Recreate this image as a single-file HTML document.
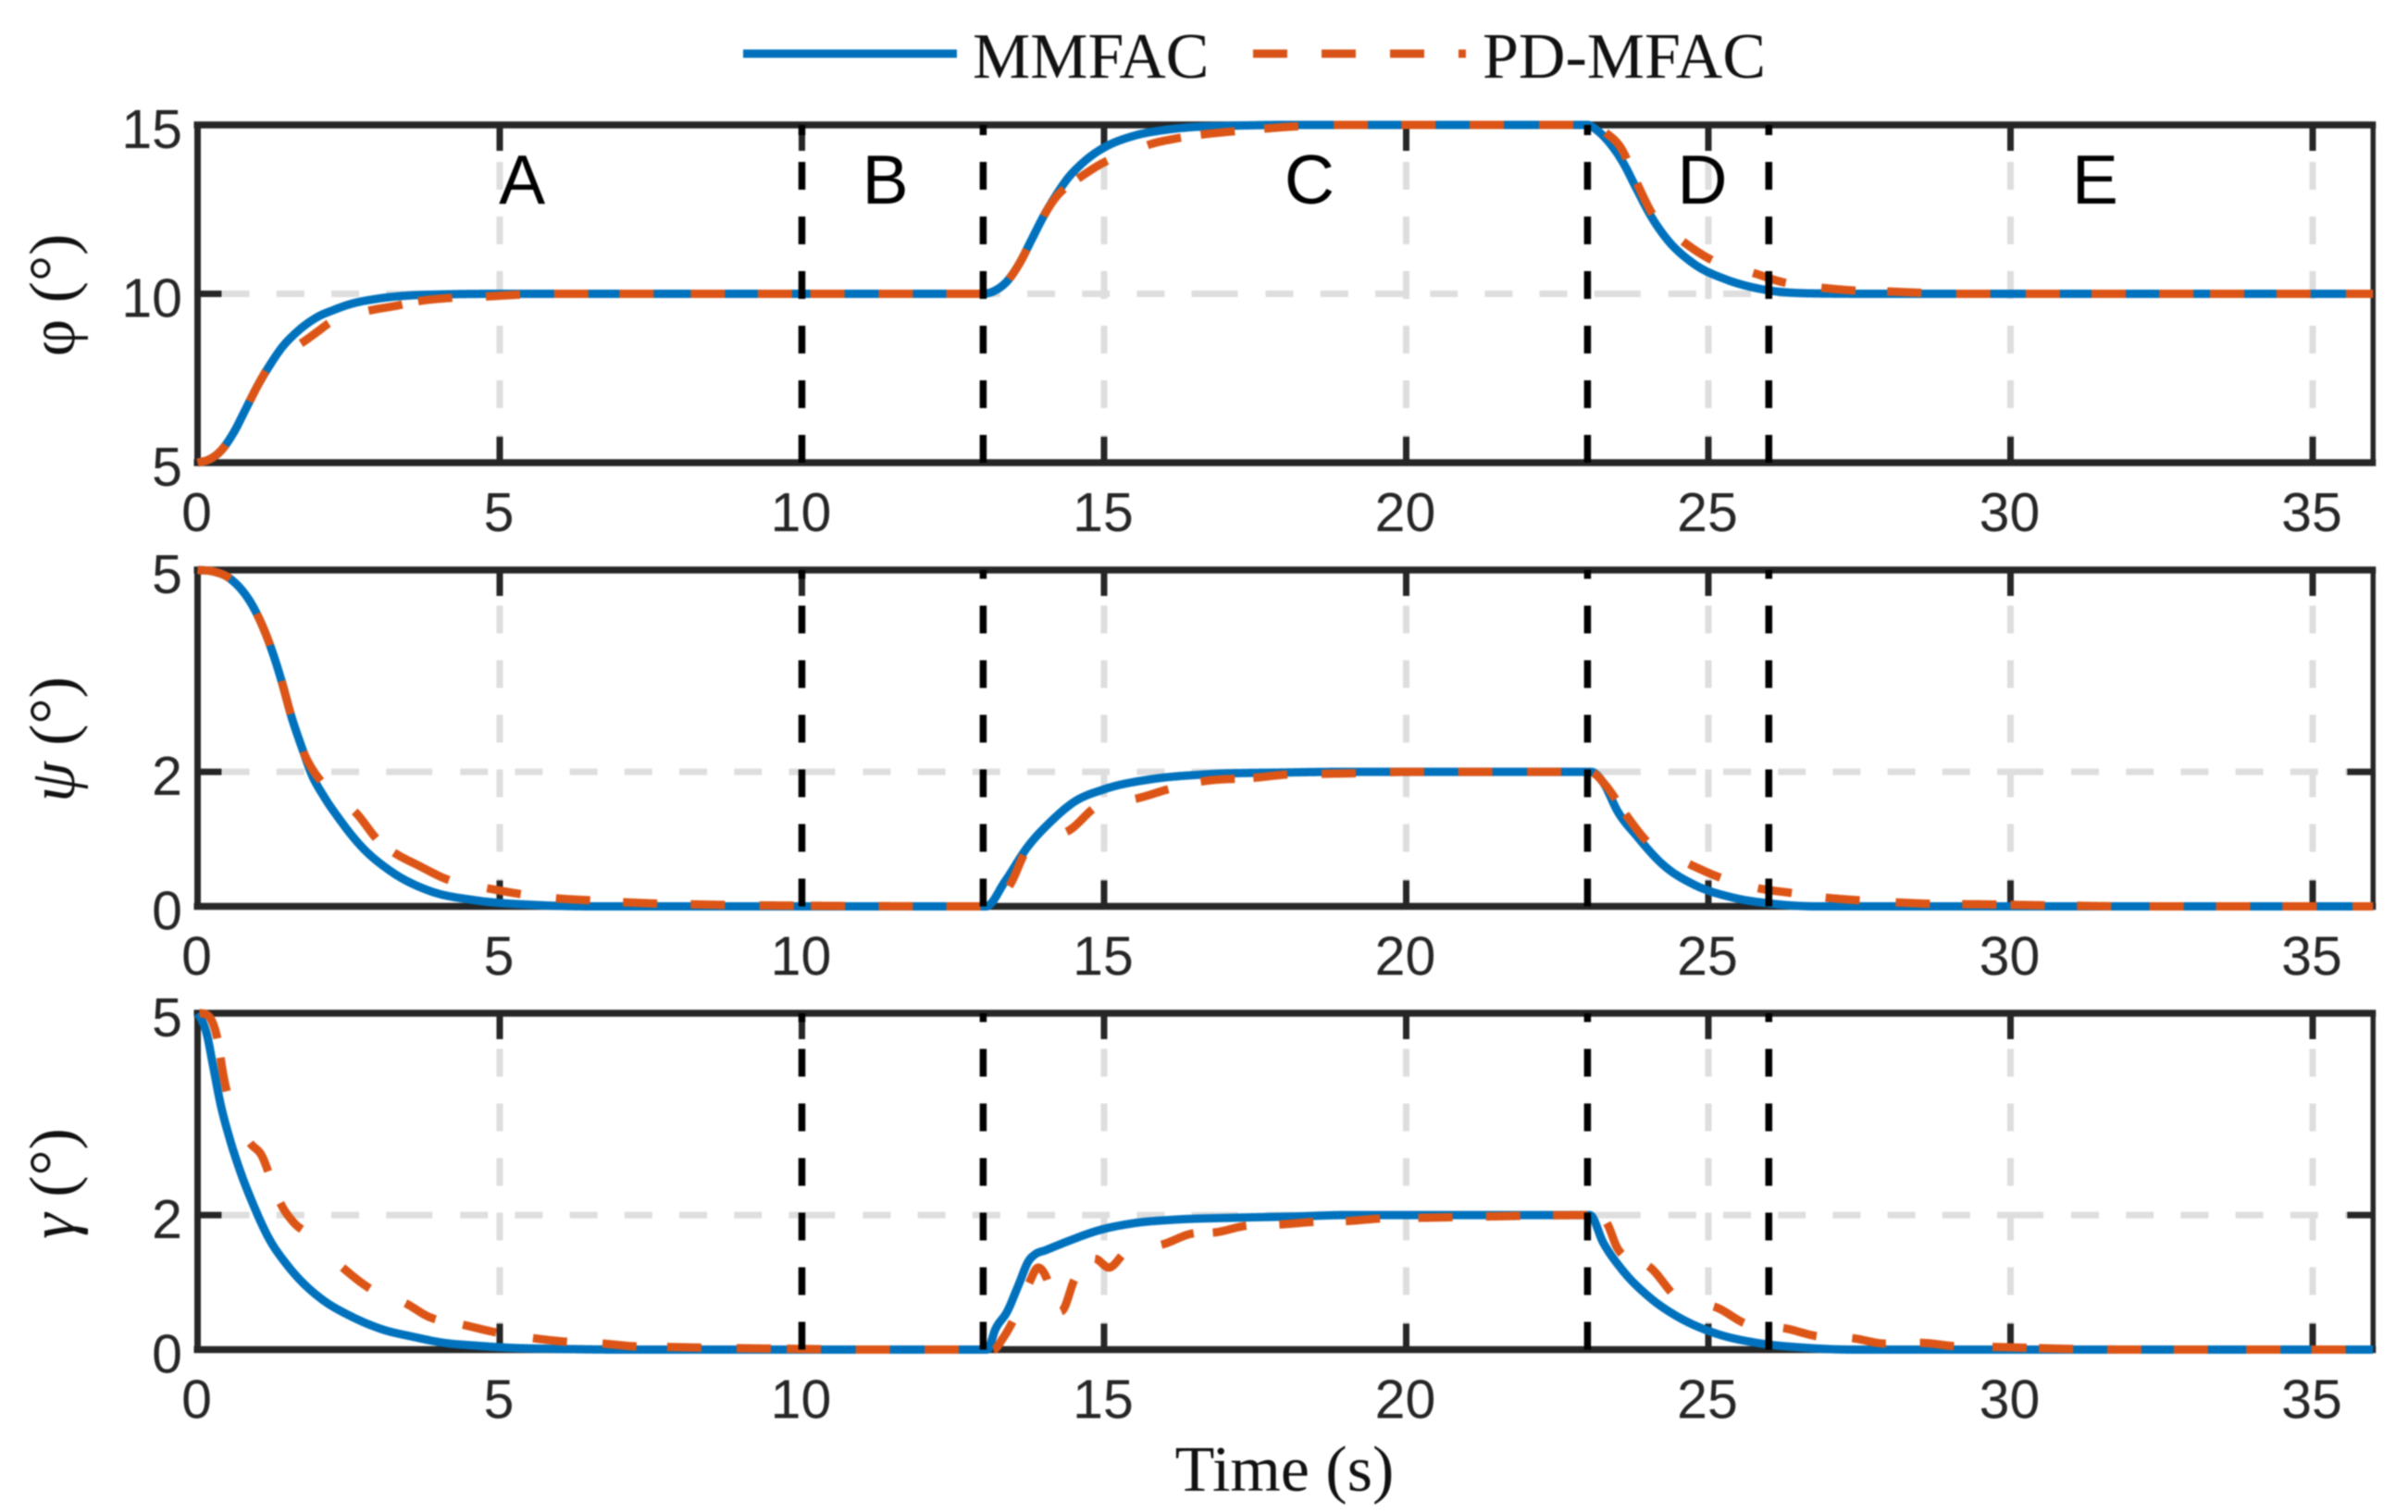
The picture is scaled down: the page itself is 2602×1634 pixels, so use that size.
<!DOCTYPE html>
<html lang="en">
<head>
<meta charset="utf-8">
<title>MMFAC vs PD-MFAC attitude tracking</title>
<style>
html,body{margin:0;padding:0;background:#fff;width:2602px;height:1634px;overflow:hidden}
svg{display:block;filter:blur(0.7px)}
.tick{font-family:"Liberation Sans",Arial,sans-serif;font-size:59px;fill:#262626}
.region{font-family:"Liberation Sans",Arial,sans-serif;font-size:75px;fill:#000;text-anchor:middle}
.serif{font-family:"Liberation Serif","Times New Roman",serif;fill:#111}
</style>
</head>
<body>
<svg id="chart" xmlns="http://www.w3.org/2000/svg" width="2602" height="1634" viewBox="0 0 2602 1634">
  <rect x="0" y="0" width="2602" height="1634" fill="#ffffff"/>
  <g id="plots"></g>
  <g>
    <line x1="803" y1="58" x2="1034" y2="58" stroke="#0072BD" stroke-width="9"/>
    <text class="serif" x="1051" y="84" font-size="70">MMFAC</text>
    <line x1="1354" y1="58" x2="1584" y2="58" stroke="#D95319" stroke-width="9" stroke-dasharray="37 37"/>
    <text class="serif" x="1602" y="84" font-size="70">PD-MFAC</text>
  </g>
  <text class="serif" font-size="70" text-anchor="middle" transform="translate(80 319) rotate(-90)">φ (°)</text>
  <text class="serif" font-size="70" text-anchor="middle" transform="translate(80 799) rotate(-90)"><tspan font-style="italic">ψ</tspan> (°)</text>
  <text class="serif" font-size="70" text-anchor="middle" transform="translate(80 1279) rotate(-90)"><tspan font-style="italic">γ</tspan> (°)</text>
  <text class="serif" font-size="70" text-anchor="middle" x="1388" y="1611">Time (s)</text>
</svg>
<script>
// ---- chart data (seconds, degrees) ----
const xTickValues = [0, 5, 10, 15, 20, 25, 30, 35];
const phaseBoundaries = [10, 13, 23, 26];
const regionNames = ['A', 'B', 'C', 'D', 'E'];
const regionTimes = [5.37, 11.38, 18.4, 24.9, 31.4];

const phiTicks = [5, 10, 15];
const psiTicks = [0, 2, 5];
const gammaTicks = [0, 2, 5];

const phiBlueT = [0,.2,.4,.6,.8,1,1.2,1.4,1.6,1.8,2,2.25,2.5,3,3.5,4,5,13,13.2,13.4,13.6,13.8,14,14.2,14.4,14.6,14.8,15,15.5,16,16.5,17,18,23,23.15,23.35,23.6,23.8,24.05,24.3,24.75,25.3,25.9,26.8,28,36];
const phiBlueV = [5,5.1,5.38,5.9,6.6,7.3,7.9,8.42,8.8,9.1,9.33,9.52,9.68,9.86,9.95,9.98,10,10,10.1,10.38,10.9,11.6,12.3,12.9,13.42,13.8,14.1,14.33,14.68,14.85,14.94,14.97,15,15,14.85,14.5,13.85,13.15,12.3,11.65,10.9,10.42,10.13,10.01,10,10];
const phiOrangeT = [0,.2,.4,.6,.8,1,1.2,1.4,1.7,2,2.2,2.5,2.83,3.3,3.65,4.2,4.77,5.4,6,13,13.2,13.4,13.6,13.8,14,14.2,14.4,14.57,15.08,15.4,15.72,16.2,16.64,17.08,17.65,18.2,19,23,23.15,23.3,23.56,23.82,24.08,24.58,25.09,25.74,26.24,26.87,27.39,27.96,28.5,29.1,36];
const phiOrangeV = [5,5.1,5.38,5.9,6.6,7.3,7.9,8.25,8.52,8.9,9.16,9.35,9.5,9.65,9.78,9.88,9.92,9.98,10,10,10.1,10.38,10.9,11.6,12.3,12.85,13.2,13.41,13.96,14.15,14.4,14.6,14.72,14.8,14.89,14.96,15,15,14.95,14.77,14.3,13.27,12.34,11.55,10.97,10.62,10.34,10.18,10.1,10.07,10.03,10,10];
const phiDashStarts = [0,.86,1.71,2.83,3.65,4.77,5.9,6.98,8.16,9.27,10.14,11.27,12.39,13.43,14,14.57,15.72,16.6,17.65,18.8,19.92,21.05,22.2,23.3,23.82,24.58,25.74,26.87,27.96,29.1,30.25,31.34,32.46,33.3,34.4,35.55];

const psiBlueT = [0,.25,.54,.98,1.2,1.39,1.55,1.75,1.87,2.1,2.32,2.7,3.2,3.84,4.6,5.6,6.6,13,13.05,13.36,13.74,14.13,14.5,15,15.78,16.64,18,19,23,23.06,23.26,23.5,23.82,24.26,24.77,25.41,26.05,26.8,36];
const psiBlueV = [5,4.98,4.87,4.35,3.88,3.35,2.83,2.3,2,1.62,1.33,.9,.52,.23,.09,.02,0,0,0,.37,.89,1.27,1.55,1.74,1.89,1.96,1.99,2,2,2,1.84,1.41,1.04,.61,.32,.13,.04,0,0];
const psiOrangeT = [0,.25,.54,.98,1.2,1.39,1.55,1.75,2.05,2.3,2.6,3.02,3.25,3.65,4.16,4.79,5.37,5.93,6.5,7.1,7.65,8.2,8.8,10,13,13.15,13.43,13.77,14.38,14.92,15.52,16.06,16.64,17.47,18.03,18.6,19.2,20,23,23.1,23.3,23.63,24.01,24.68,25.22,25.82,26.37,26.94,27.5,28.1,28.6,29.5,31,32,36];
const psiOrangeV = [5,4.98,4.87,4.35,3.88,3.35,2.83,2.3,1.85,1.62,1.41,.95,.8,.61,.39,.27,.18,.12,.09,.06,.04,.03,.02,.01,0,.02,.3,.91,1.11,1.51,1.6,1.74,1.86,1.91,1.96,1.97,1.98,2,2,1.98,1.8,1.37,.94,.63,.42,.27,.2,.13,.09,.06,.04,.03,.01,0,0];
const psiDashStarts = [0,.98,1.39,1.75,2.6,3.25,3.65,4.79,5.93,7.04,8.16,9.3,10.15,11.27,12.39,13.43,14.38,15.52,16.6,17.47,18.6,19.73,20.86,22,23.1,23.63,24.68,25.82,26.94,28.1,29.2,30,31.1,32.3,33.4,34.5,35.66];

const gammaBlueT = [0,.05,.15,.25,.38,.53,.71,.91,1.17,1.48,1.68,2.04,2.55,3.06,3.57,4.08,4.59,5.1,6,7,13,13.07,13.2,13.4,13.58,13.76,13.85,14.04,14.4,14.9,15.5,16.14,17.15,18.2,19,23,23.04,23.26,23.57,24.01,24.53,25.09,25.8,26.56,27.4,36];
const gammaBlueV = [5,4.93,4.7,4.25,3.65,3.14,2.64,2.18,1.67,1.26,1.05,.76,.49,.3,.19,.1,.06,.03,.01,0,0,0,.3,.57,.95,1.33,1.41,1.48,1.61,1.77,1.88,1.93,1.96,1.98,2,2,2,1.59,1.19,.79,.47,.25,.1,.03,0,0];
const gammaOrangeT = [0,.03,.15,.33,.43,.56,.87,1.07,1.2,1.37,1.58,1.86,2.4,2.96,3.44,3.82,4.39,4.97,5.55,6.06,6.7,7.2,7.75,8.3,9,10,11,13.17,13.32,13.5,13.76,13.91,14.06,14.2,14.29,14.52,14.85,15.08,15.36,15.95,16.5,16.8,17.35,17.9,18.5,19,19.6,20.3,21.4,23,23.1,23.32,23.5,24.01,24.53,25.09,25.67,26.24,26.8,27.38,27.93,28.5,29.1,29.7,31,32,36];
const gammaOrangeV = [5,5,4.98,4.61,4.06,3.58,3.07,2.87,2.57,2.18,1.9,1.7,1.22,.85,.69,.49,.37,.25,.17,.12,.09,.05,.04,.03,.02,.01,0,0,.16,.44,.99,1.22,1.04,.6,.57,1.06,1.35,1.22,1.45,1.56,1.73,1.74,1.84,1.86,1.9,1.91,1.95,1.96,1.98,2,1.98,1.88,1.5,1.24,.74,.64,.37,.32,.2,.17,.09,.1,.05,.04,.01,0,0];
const gammaDashStarts = [.03,.38,.87,1.37,2.4,3.44,4.39,5.55,6.7,7.77,8.92,9.75,10.89,12.03,13.17,13.76,14.29,14.85,15.95,16.8,17.9,19,20.2,21.32,22.43,23.32,24.01,25.09,26.24,27.38,28.5,29.7,30.47,31.6,32.7,33.9,34.98];

// ---- axis functions ----
const x0 = 213.5, pxPerSec = 65.3, xMax = 36;
const scaleX = t => x0 + pxPerSec * t;
const makeScaleY = (top, bottom, vMin, vMax) => v => bottom - (v - vMin) / (vMax - vMin) * (bottom - top);

const SVGNS = 'http://www.w3.org/2000/svg';
const root = document.getElementById('plots');
function mk(tag, attrs, parent) {
  const n = document.createElementNS(SVGNS, tag);
  for (const k in attrs) n.setAttribute(k, attrs[k]);
  (parent || root).appendChild(n);
  return n;
}

// Smooth interpolant through the sampled readings (Fritsch-Carlson limited tangents)
function makeSpline(ts, vs) {
  const n = ts.length, d = [], m = new Array(n).fill(0);
  for (let i = 0; i < n - 1; i++) d.push((vs[i + 1] - vs[i]) / (ts[i + 1] - ts[i]));
  m[0] = d[0]; m[n - 1] = d[n - 2];
  for (let i = 1; i < n - 1; i++) {
    if (d[i - 1] * d[i] <= 0) { m[i] = 0; continue; }
    const h0 = ts[i] - ts[i - 1], h1 = ts[i + 1] - ts[i];
    m[i] = (h1 * d[i - 1] + h0 * d[i]) / (h0 + h1);
  }
  for (let i = 0; i < n - 1; i++) {
    if (d[i] === 0) { m[i] = 0; m[i + 1] = 0; continue; }
    const a = m[i] / d[i], b = m[i + 1] / d[i], s = a * a + b * b;
    if (s > 9) { const k = 3 / Math.sqrt(s); m[i] = k * a * d[i]; m[i + 1] = k * b * d[i]; }
  }
  return t => {
    let i = 0;
    while (i < n - 2 && t > ts[i + 1]) i++;
    const h = ts[i + 1] - ts[i], u = Math.min(1, Math.max(0, (t - ts[i]) / h));
    const u2 = u * u, u3 = u2 * u;
    return (2 * u3 - 3 * u2 + 1) * vs[i] + (u3 - 2 * u2 + u) * h * m[i]
      + (-2 * u3 + 3 * u2) * vs[i + 1] + (u3 - u2) * h * m[i + 1];
  };
}
function subPath(f, sy, a, b) {
  let p = 'M' + scaleX(a).toFixed(2) + ' ' + sy(f(a)).toFixed(2);
  const steps = Math.max(1, Math.ceil((b - a) / 0.02));
  for (let i = 1; i <= steps; i++) {
    const t = a + (b - a) * i / steps;
    p += 'L' + scaleX(t).toFixed(2) + ' ' + sy(f(t)).toFixed(2);
  }
  return p;
}

const AXIS = '#262626', GRID = '#dedede';
const VDASH = '30 29';
const HDASH = '30 29.2 30 29.2 30 29.2 30 29.2 30 29.2 30 29.2 50 30';

function drawPanel(name, top, bottom, vMin, vMax, yTicks, gridValue, blueT, blueV, orangeT, orangeV, dashStarts, withRegions) {
  const sy = makeScaleY(top, bottom, vMin, vMax);
  const g = mk('g', {});
  
  

  // grid
  xTickValues.slice(1).forEach(t => {
    const l = mk('line', {x1: scaleX(t), x2: scaleX(t), y1: bottom, y2: top, stroke: GRID, 'stroke-width': 7, 'stroke-dasharray': VDASH}, g);
    
    
  });
  const hg = mk('line', {x1: scaleX(0) + 26.5, x2: scaleX(xMax), y1: sy(gridValue), y2: sy(gridValue), stroke: GRID, 'stroke-width': 7, 'stroke-dasharray': HDASH, 'stroke-dashoffset': 178}, g);
  
  

  // x ticks, both sides
  xTickValues.slice(1).forEach(t => {
    const a = mk('line', {x1: scaleX(t), x2: scaleX(t), y1: bottom, y2: bottom - 28, stroke: AXIS, 'stroke-width': 7}, g);
    
    
    const b = mk('line', {x1: scaleX(t), x2: scaleX(t), y1: top, y2: top + 28, stroke: AXIS, 'stroke-width': 7}, g);
    
    
  });
  // y ticks, both sides
  yTicks.forEach(v => {
    const a = mk('line', {x1: scaleX(0), x2: scaleX(0) + 26, y1: sy(v), y2: sy(v), stroke: AXIS, 'stroke-width': 7}, g);
    
    
    const b = mk('line', {x1: scaleX(xMax), x2: scaleX(xMax) - 28, y1: sy(v), y2: sy(v), stroke: AXIS, 'stroke-width': 7}, g);
    
    
  });

  // axes box
  const xl = scaleX(0), xr = scaleX(xMax);
  const boxTop = mk('line', {x1: xl - 4, x2: xr + 3, y1: top, y2: top, stroke: AXIS, 'stroke-width': 7.5}, g);
  
  
  const boxBottom = mk('line', {x1: xl - 4, x2: xr + 3, y1: bottom, y2: bottom, stroke: AXIS, 'stroke-width': 7.5}, g);
  
  
  const boxLeft = mk('line', {x1: xl, x2: xl, y1: top, y2: bottom, stroke: AXIS, 'stroke-width': 7}, g);
  
  
  const boxRight = mk('line', {x1: xr, x2: xr, y1: top, y2: bottom, stroke: AXIS, 'stroke-width': 5.5}, g);
  
  

  // tick labels
  xTickValues.forEach(t => {
    const tl = mk('text', {class: 'tick', x: scaleX(t) - 1, y: bottom + 74, 'text-anchor': 'middle'}, g);
    tl.textContent = String(t);
    
    
  });
  yTicks.forEach(v => {
    const tl = mk('text', {class: 'tick', x: 197, y: sy(v) + 25, 'text-anchor': 'end'}, g);
    tl.textContent = String(v);
    
    
  });

  // series
  const fBlue = makeSpline(blueT, blueV);
  const blue = mk('path', {d: subPath(fBlue, sy, blueT[0], blueT[blueT.length - 1]), fill: 'none', stroke: '#0072BD', 'stroke-width': 9, 'stroke-linejoin': 'round'}, g);
  
  

  // each subpath starts a fresh dash at one of the dash-start times
  const fOrange = makeSpline(orangeT, orangeV);
  let orangeD = '';
  dashStarts.forEach((t, i) => {
    const end = i + 1 < dashStarts.length ? dashStarts[i + 1] : orangeT[orangeT.length - 1];
    orangeD += subPath(fOrange, sy, t, end);
  });
  const orange = mk('path', {d: orangeD, fill: 'none', stroke: '#DC5516', 'stroke-width': 9, 'stroke-dasharray': '37 9999', 'stroke-linejoin': 'round'}, g);
  
  

  // phase boundaries
  phaseBoundaries.forEach(t => {
    const l = mk('line', {x1: scaleX(t), x2: scaleX(t), y1: bottom, y2: top, stroke: '#000', 'stroke-width': 7.5, 'stroke-dasharray': VDASH}, g);
    
    
  });

  if (withRegions) {
    regionNames.forEach((label, i) => {
      const r = mk('text', {class: 'region', x: scaleX(regionTimes[i]), y: top + 85}, g);
      r.textContent = label;
      
      
    });
  }
}

drawPanel('phi', 135, 500, 5, 15, phiTicks, 10, phiBlueT, phiBlueV, phiOrangeT, phiOrangeV, phiDashStarts, true);
drawPanel('psi', 616, 979.5, 0, 5, psiTicks, 2, psiBlueT, psiBlueV, psiOrangeT, psiOrangeV, psiDashStarts, false);
drawPanel('gamma', 1095, 1458.5, 0, 5, gammaTicks, 2, gammaBlueT, gammaBlueV, gammaOrangeT, gammaOrangeV, gammaDashStarts, false);
</script>
</body>
</html>
